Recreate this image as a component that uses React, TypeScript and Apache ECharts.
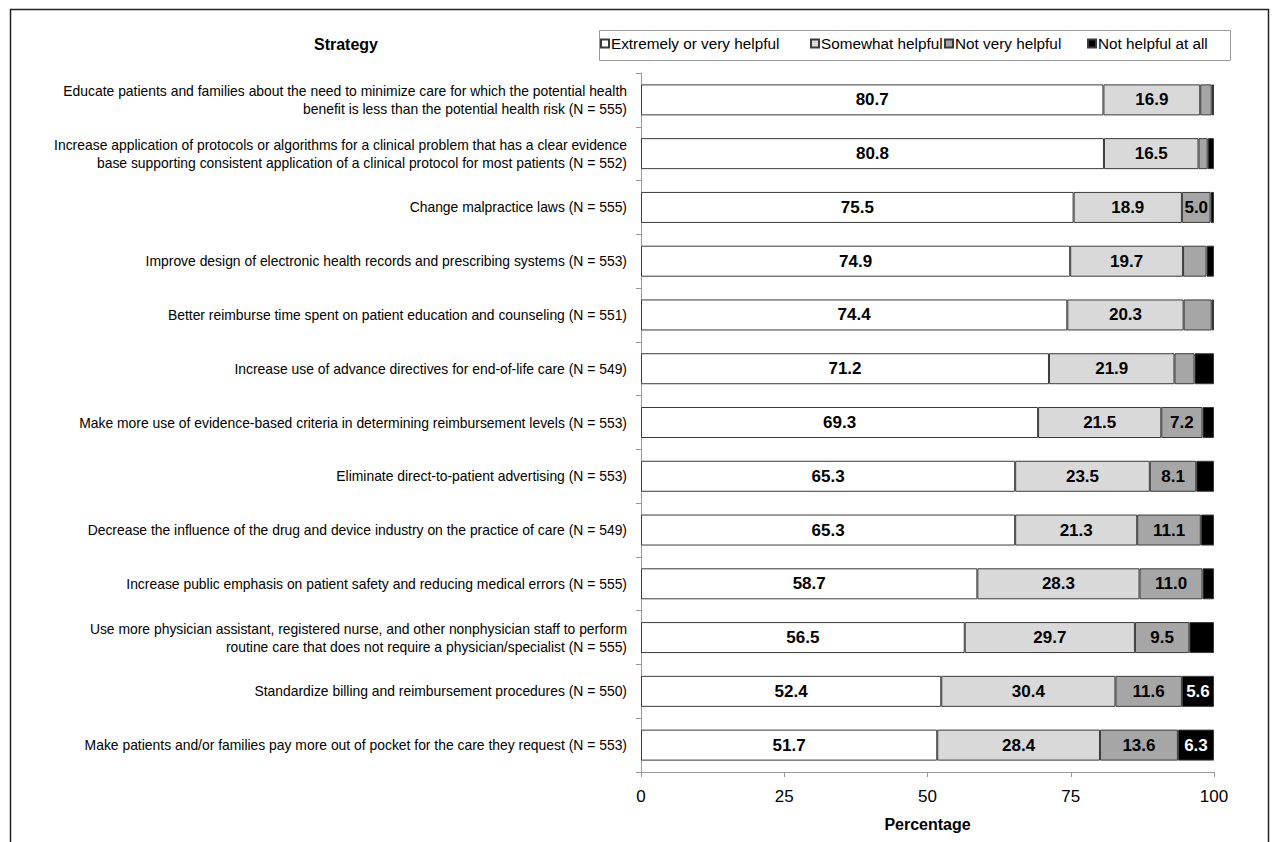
import React, { useEffect, useRef } from "react";
import * as echarts from "echarts";

const FONT = "'Liberation Sans', Arial, Helvetica, sans-serif";

const categories = [
  "Educate patients and families about the need to minimize care for which the potential health\nbenefit is less than the potential health risk (N = 555)",
  "Increase application of protocols or algorithms for a clinical problem that has a clear evidence\nbase supporting consistent application of a clinical protocol for most patients (N = 552)",
  "Change malpractice laws (N = 555)",
  "Improve design of electronic health records and prescribing systems (N = 553)",
  "Better reimburse time spent on patient education and counseling (N = 551)",
  "Increase use of advance directives for end-of-life care (N = 549)",
  "Make more use of evidence-based criteria in determining reimbursement levels (N = 553)",
  "Eliminate direct-to-patient advertising (N = 553)",
  "Decrease the influence of the drug and device industry on the practice of care (N = 549)",
  "Increase public emphasis on patient safety and reducing medical errors (N = 555)",
  "Use more physician assistant, registered nurse, and other nonphysician staff to perform\nroutine care that does not require a physician/specialist (N = 555)",
  "Standardize billing and reimbursement procedures (N = 550)",
  "Make patients and/or families pay more out of pocket for the care they request (N = 553)",
];

const seriesNames = [
  "Extremely or very helpful",
  "Somewhat helpful",
  "Not very helpful",
  "Not helpful at all",
];

const extremelyHelpful = [80.7, 80.8, 75.5, 74.9, 74.4, 71.2, 69.3, 65.3, 65.3, 58.7, 56.5, 52.4, 51.7];
const somewhatHelpful = [16.9, 16.5, 18.9, 19.7, 20.3, 21.9, 21.5, 23.5, 21.3, 28.3, 29.7, 30.4, 28.4];
const notVeryHelpful = [2.0, 1.6, 5.0, 4.1, 4.9, 3.5, 7.2, 8.1, 11.1, 11.0, 9.5, 11.6, 13.6];
const notHelpfulAtAll = [0.4, 1.1, 0.6, 1.3, 0.4, 3.4, 2.0, 3.1, 2.3, 2.0, 4.3, 5.6, 6.3];

const xTicks = [0, 25, 50, 75, 100];

const colors = ["#ffffff", "#d9d9d9", "#a6a6a6", "#000000"];
const labelColors = ["#000000", "#000000", "#000000", "#ffffff"];
const legendLefts = [600, 810, 944, 1087];

export default function App() {
  const ref = useRef<HTMLDivElement>(null);
  useEffect(() => {
    if (!ref.current) return;
    const chart = echarts.init(ref.current, null, { renderer: "svg" });
    const datasets = [extremelyHelpful, somewhatHelpful, notVeryHelpful, notHelpfulAtAll];
    const option: any = {
      animation: false,
      backgroundColor: "#ffffff",
      textStyle: { fontFamily: FONT },
      graphic: [
        {
          type: "rect",
          left: 8,
          top: 7,
          shape: { x: 0, y: 0, width: 1258, height: 900 },
          style: { fill: "none", stroke: "#222", lineWidth: 1.5 },
          silent: true,
        },
        {
          type: "rect",
          left: 597,
          top: 28,
          shape: { x: 0, y: 0, width: 631, height: 30 },
          style: { fill: "none", stroke: "#999", lineWidth: 1 },
          silent: true,
        },
        {
          type: "text",
          x: 346,
          y: 44,
          style: {
            text: "Strategy",
            font: `bold 16px ${FONT}`,
            fill: "#000",
            textAlign: "center",
            textVerticalAlign: "middle",
          },
        },
      ],
      legend: seriesNames.map((n, i) => ({
        data: [n],
        left: legendLefts[i],
        top: 36,
        padding: 0,
        itemWidth: 8,
        itemHeight: 8,
        icon: "rect",
        selectedMode: false,
        textStyle: { fontFamily: FONT, fontSize: 15.3, color: "#000", padding: [0, 0, 0, -3] },
      })),
      grid: { left: 641, right: 65, top: 73, bottom: 70, outerBoundsMode: "none", containLabel: false },
      xAxis: {
        type: "value",
        min: 0,
        max: 100,
        interval: 25,
        name: "Percentage",
        nameLocation: "middle",
        nameGap: 44,
        nameTextStyle: { fontFamily: FONT, fontSize: 16, fontWeight: "bold", color: "#000" },
        axisLine: { show: true, lineStyle: { color: "#999" } },
        axisTick: { show: true, length: 5, lineStyle: { color: "#999" } },
        splitLine: { show: false },
        axisLabel: {
          fontFamily: FONT,
          fontSize: 17,
          color: "#000",
          margin: 16,
          formatter: (v: number) => (xTicks.includes(v) ? String(v) : ""),
        },
      },
      yAxis: {
        type: "category",
        data: categories,
        inverse: true,
        axisLine: { show: true, lineStyle: { color: "#999" } },
        axisTick: { show: true, length: 5, lineStyle: { color: "#999" } },
        axisLabel: {
          fontFamily: FONT,
          fontSize: 13.9,
          lineHeight: 18,
          color: "#000",
          margin: 14,
          align: "right",
        },
      },
      series: datasets.map((d, i) => ({
        name: seriesNames[i],
        type: "bar",
        stack: "total",
        barWidth: 31,
        data: d,
        itemStyle: { color: colors[i], borderColor: "#3a3a3a", borderWidth: 1 },
        label: {
          show: true,
          position: "inside",
          fontFamily: FONT,
          fontSize: 17,
          fontWeight: "bold",
          color: labelColors[i],
          formatter: (p: any) => (p.value >= 5 ? Number(p.value).toFixed(1) : ""),
        },
      })),
    };
    chart.setOption(option);
    return () => chart.dispose();
  }, []);
  return (
    <div
      ref={ref}
      style={{ position: "absolute", left: 0, top: 0, width: 1279, height: 842 }}
    />
  );
}
